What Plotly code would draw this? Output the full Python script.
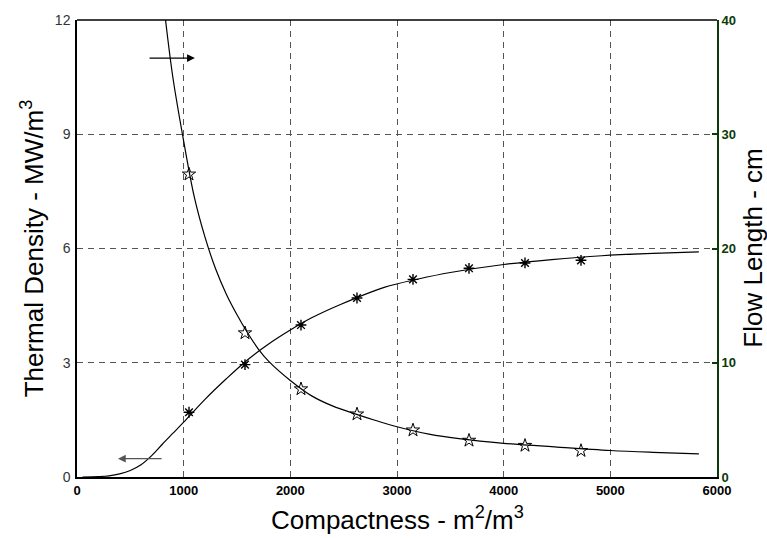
import plotly.graph_objects as go

# Sample points (compactness, m^2/m^3)
sample_x = [1050, 1575, 2100, 2625, 3150, 3675, 4200, 4725]
# Thermal density, MW/m^3 (left axis)
density_pts = [1.70, 2.95, 3.99, 4.70, 5.19, 5.48, 5.62, 5.69]
# Flow length, cm (right axis)
length_pts = [26.5, 12.6, 7.7, 5.5, 4.1, 3.2, 2.75, 2.3]

# Model curves
density_curve_x = [50, 200, 300, 400, 500, 600, 700, 800, 900, 1000, 1200, 1400,
                   1600, 1800, 2000, 2200, 2470, 2880, 3200, 3500, 4000, 4450,
                   4920, 5400, 5830]
density_curve = [0.0, 0.01, 0.03, 0.08, 0.17, 0.32, 0.56, 0.86, 1.15, 1.44, 2.04,
                 2.58, 3.08, 3.50, 3.86, 4.18, 4.53, 4.98, 5.20, 5.37, 5.58, 5.71,
                 5.81, 5.87, 5.91]

length_curve_x = [830, 900, 1000, 1100, 1200, 1300, 1400, 1500, 1600, 1700, 1800,
                  2000, 2200, 2400, 2600, 2800, 3000, 3300, 3600, 4000, 4500,
                  5000, 5400, 5830]
length_curve = [40.0, 34.9, 29.4, 24.5, 21.0, 18.2, 16.0, 14.2, 12.6, 11.2, 10.1,
                8.45, 7.1, 6.2, 5.55, 4.95, 4.4, 3.75, 3.33, 2.95, 2.62,
                2.32, 2.16, 2.03]

x_ticks = [0, 1000, 2000, 3000, 4000, 5000, 6000]
left_ticks = [0, 3, 6, 9, 12]
right_ticks = [0, 10, 20, 30, 40]

FONT = "Arial, Liberation Sans, sans-serif"
GREEN = "#0b3a0b"

fig = go.Figure()

fig.add_trace(go.Scatter(
    x=density_curve_x, y=density_curve, mode="lines",
    line=dict(color="black", width=1.2, shape="spline", smoothing=1.0),
    showlegend=False))
fig.add_trace(go.Scatter(
    x=sample_x, y=density_pts, mode="markers",
    marker=dict(symbol="asterisk-open", size=9, color="black",
                line=dict(color="black", width=1.4)),
    showlegend=False))

fig.add_trace(go.Scatter(
    x=length_curve_x, y=length_curve, mode="lines", yaxis="y2",
    line=dict(color="black", width=1.2, shape="spline", smoothing=1.0),
    showlegend=False))
fig.add_trace(go.Scatter(
    x=sample_x, y=length_pts, mode="markers", yaxis="y2",
    marker=dict(symbol="star-open", size=10, color="black",
                line=dict(color="black", width=1)),
    showlegend=False))

grid_style = dict(showgrid=True, gridcolor="#555555", gridwidth=1, griddash="6px,5px")

fig.update_layout(
    width=767, height=538,
    margin=dict(l=77, r=50, t=13, b=61),
    paper_bgcolor="white", plot_bgcolor="white",
    font=dict(family=FONT, color="black"),
    xaxis=dict(range=[0, 6000], tickvals=x_ticks, ticks="",
               showline=True, linecolor="black", linewidth=2, mirror=False,
               tickfont=dict(size=13, color="black", family=FONT, weight="bold"),
               zeroline=False, **grid_style),
    yaxis=dict(range=[0, 12], tickvals=left_ticks, ticks="",
               showline=True, linecolor="black", linewidth=1.5,
               tickfont=dict(size=14, color="#333333", family=FONT),
               ticklabelstandoff=2,
               zeroline=False, **grid_style),
    yaxis2=dict(range=[0, 40], tickvals=right_ticks, overlaying="y", side="right",
                ticks="inside", ticklen=5, tickcolor=GREEN, tickwidth=1.5,
                showline=True, linecolor=GREEN, linewidth=2,
                tickfont=dict(size=13, color=GREEN, family=FONT, weight="bold"),
                ticklabelstandoff=0,
                showgrid=False, zeroline=False),
    shapes=[dict(type="line", xref="paper", yref="paper", x0=0, x1=1, y0=1, y1=1,
                 line=dict(color="black", width=1.5))],
)

# Axis titles
fig.add_annotation(text="Compactness - m<sup>2</sup>/m<sup>3</sup>", xref="paper", yref="paper",
                   x=0.5, y=-0.09, xanchor="center", yanchor="middle", showarrow=False,
                   font=dict(size=26, color="black", family=FONT))
fig.add_annotation(text="Thermal Density - MW/m<sup>3</sup>", xref="paper", yref="paper",
                   x=-0.069, y=0.5, xanchor="center", yanchor="middle", textangle=-90,
                   showarrow=False, font=dict(size=26, color="black", family=FONT))
fig.add_annotation(text="Flow Length - cm", xref="paper", yref="paper",
                   x=1.055, y=0.5, xanchor="center", yanchor="middle", textangle=-90,
                   showarrow=False, font=dict(size=26, color="black", family=FONT))

# Arrows pointing to the axis each curve belongs to
fig.add_annotation(x=1105, y=11.0, ax=666, ay=11.0, xref="x", yref="y", axref="x", ayref="y",
                   text="", showarrow=True, arrowhead=2, arrowsize=1.3, arrowwidth=1.2,
                   arrowcolor="black")
fig.add_annotation(x=384, y=0.48, ax=807, ay=0.48, xref="x", yref="y", axref="x", ayref="y",
                   text="", showarrow=True, arrowhead=2, arrowsize=1.3, arrowwidth=1.2,
                   arrowcolor="#555555")

fig.write_html("out.html")
